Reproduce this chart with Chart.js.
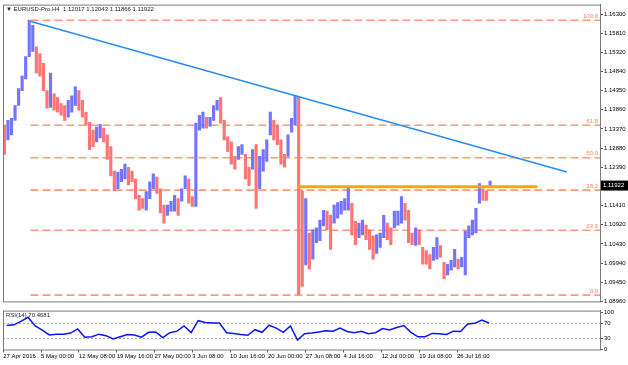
<!DOCTYPE html>
<html>
<head>
<meta charset="utf-8">
<script src="https://cdn.jsdelivr.net/npm/chart.js@4.4.0/dist/chart.umd.min.js"></script>
<style>
  html, body { margin: 0; padding: 0; background: #fff; }
  #wrap { position: relative; width: 628px; height: 365px; }
  #main { position: absolute; left: 0; top: 0; width: 628px; height: 306px; }
  #rsi { position: absolute; left: 0; top: 306px; width: 628px; height: 59px; }
</style>
</head>
<body>
<div id="wrap">
  <canvas id="main" width="628" height="306"></canvas>
  <canvas id="rsi" width="628" height="59"></canvas>
</div>
<script>
// EURUSD H4, each group below = 3 H4 bars (high / low)
const barsPerGroup = 3;
const highs = [
  1.1347, 1.1359, 1.1364, 1.1397, 1.1440, 1.1472, 1.1522, 1.1615, 1.1602, 1.1547,
  1.1530, 1.1505, 1.1435, 1.1480, 1.1427, 1.1417, 1.1402, 1.1397, 1.1410, 1.1422,
  1.1445, 1.1435, 1.1410, 1.1380, 1.1354, 1.1334, 1.1342, 1.1349, 1.1339, 1.1322,
  1.1292, 1.1229, 1.1227, 1.1234, 1.1247, 1.1239, 1.1229, 1.1209, 1.1167, 1.1159,
  1.1177, 1.1202, 1.1222, 1.1214, 1.1184, 1.1142, 1.1142, 1.1152, 1.1167, 1.1159,
  1.1184, 1.1217, 1.1209, 1.1164, 1.1352, 1.1372, 1.1380, 1.1367, 1.1367, 1.1397,
  1.1410, 1.1417, 1.1359, 1.1317, 1.1304, 1.1267, 1.1292, 1.1297, 1.1272, 1.1239,
  1.1284, 1.1297, 1.1267, 1.1284, 1.1309, 1.1380, 1.1359, 1.1347, 1.1309, 1.1272,
  1.1322, 1.1364, 1.1422, 1.1420, 1.1179, 1.1159, 1.1071, 1.1079, 1.1084, 1.1104,
  1.1129, 1.1127, 1.1116, 1.1142, 1.1149, 1.1152, 1.1159, 1.1187, 1.1147, 1.1101,
  1.1096, 1.1104, 1.1091, 1.1079, 1.1064, 1.1066, 1.1071, 1.1116, 1.1096, 1.1084,
  1.1127, 1.1127, 1.1164, 1.1147, 1.1129, 1.1071, 1.1084, 1.1079, 1.1034, 1.1026,
  1.1016, 1.1034, 1.1059, 1.1039, 1.0996, 1.0991, 1.1001, 1.1029, 1.1004, 1.1009,
  1.1076, 1.1089, 1.1104, 1.1134, 1.1197, 1.1184, 1.1179, 1.1204
];
const lows = [
  1.1272, 1.1309, 1.1322, 1.1359, 1.1397, 1.1435, 1.1465, 1.1522, 1.1535, 1.1480,
  1.1472, 1.1435, 1.1390, 1.1392, 1.1385, 1.1380, 1.1372, 1.1359, 1.1367, 1.1380,
  1.1397, 1.1385, 1.1367, 1.1347, 1.1284, 1.1292, 1.1304, 1.1314, 1.1304, 1.1259,
  1.1217, 1.1179, 1.1184, 1.1202, 1.1209, 1.1194, 1.1202, 1.1159, 1.1129, 1.1134,
  1.1129, 1.1159, 1.1184, 1.1172, 1.1122, 1.1096, 1.1116, 1.1127, 1.1127, 1.1116,
  1.1152, 1.1184, 1.1147, 1.1139, 1.1139, 1.1334, 1.1339, 1.1339, 1.1344, 1.1359,
  1.1385, 1.1352, 1.1309, 1.1279, 1.1247, 1.1234, 1.1259, 1.1272, 1.1209, 1.1192,
  1.1234, 1.1134, 1.1184, 1.1229, 1.1254, 1.1322, 1.1309, 1.1297, 1.1247, 1.1239,
  1.1267, 1.1329, 1.1347, 1.0914, 1.0934, 1.0989, 1.0979, 1.1004, 1.1046, 1.1051,
  1.1089, 1.1079, 1.1029, 1.1096, 1.1109, 1.1119, 1.1129, 1.1129, 1.1066, 1.1041,
  1.1059, 1.1066, 1.1054, 1.1029, 1.1004, 1.1019, 1.1034, 1.1059, 1.1054, 1.1041,
  1.1084, 1.1091, 1.1096, 1.1104, 1.1046, 1.1041, 1.1039, 1.1041, 1.0991, 1.0991,
  1.0979, 1.1001, 1.1004, 1.1009, 1.0954, 1.0964, 1.0976, 1.0984, 1.0979, 1.0984,
  1.0964, 1.1059, 1.1066, 1.1071, 1.1147, 1.1154, 1.1154, 1.1187
];
// RSI(14), one reading every 6 H4 bars
const rsiStep = 6;
const rsiValues = [
  64, 66, 75, 86, 63, 52, 39, 41, 41, 44,
  55, 33, 34, 41, 37, 28, 34, 40, 39, 33,
  46, 47, 32, 45, 49, 63, 45, 77, 72, 71,
  71, 45, 43, 40, 38, 53, 46, 65, 57, 46,
  63, 25, 42, 44, 47, 50, 49, 57, 48, 45,
  49, 42, 45, 56, 52, 59, 64, 46, 34, 34,
  43, 42, 40, 49, 48, 68, 70, 79, 71
];
// time labels, one every 32 H4 bars
const labelStep = 32;
const dateLabels = ["27 Apr 2016", "5 May 00:00", "12 May 08:00", "19 May 16:00", "27 May 00:00",
  "3 Jun 08:00", "10 Jun 16:00", "20 Jun 00:00", "27 Jun 08:00", "4 Jul 16:00",
  "12 Jul 00:00", "19 Jul 08:00", "26 Jul 16:00"];
const priceTicks = [1.0896, 1.0945, 1.0994, 1.1043, 1.1092, 1.1141, 1.1239, 1.1288,
  1.1337, 1.1386, 1.1435, 1.1484, 1.1532, 1.1581, 1.1630];
const rsiTicks = [0, 30, 70, 100];
const rsiLevels = [30, 70];

// drawing objects
const fibLevels = [0, 23.6, 38.2, 50, 61.8, 100];
const fibLow = 1.0912;
const fibHigh = 1.1615;
const fibStart = 23;
const trendLine = [{ x: 23.5, y: 1.1612 }, { x: 477, y: 1.1227 }];
const resistance = [{ x: 249, y: 1.1189 }, { x: 452, y: 1.1189 }];
const ohlcText = "\u25BC EURUSD-Pro,H4  1.12017 1.12043 1.11866 1.11922";
const lastPrice = 1.11922;
const rsiText = "RSI(14) 70.4681";

const xMin = -0.2, xMax = 505;
const FONT = '"Liberation Sans", "DejaVu Sans", sans-serif';
Chart.defaults.font.family = FONT;
Chart.defaults.font.size = 6;
Chart.defaults.color = '#000';

const mids = highs.map((h, i) => (h + lows[i]) / 2);
const barColors = mids.map((m, i) => (i > 0 && m >= mids[i - 1]) ? '#7474ff' : '#ff7474');

const panelFrame = {
  id: 'panelFrame',
  afterDraw(chart) {
    const { ctx, chartArea: a } = chart;
    ctx.save();
    ctx.strokeStyle = '#7a7a7a';
    ctx.lineWidth = 1;
    ctx.strokeRect(a.left + 0.5, a.top + 0.5, a.right - a.left, a.bottom - a.top);
    ctx.restore();
  }
};

const priceOverlay = {
  id: 'priceOverlay',
  afterDraw(chart) {
    const { ctx, chartArea: a, scales: { y } } = chart;
    ctx.save();
    ctx.font = '6px ' + FONT;
    ctx.fillStyle = '#222';
    ctx.textBaseline = 'middle';
    ctx.fillText(ohlcText, a.left + 3, a.top + 5);

    ctx.fillStyle = '#ff7f5a';
    ctx.textAlign = 'right';
    ctx.textBaseline = 'bottom';
    fibLevels.forEach(l => {
      const py = y.getPixelForValue(fibLow + (fibHigh - fibLow) * l / 100);
      ctx.fillText(l.toFixed(1), a.right - 2, py - 1);
    });

    const py = y.getPixelForValue(lastPrice);
    ctx.fillStyle = '#000';
    ctx.fillRect(a.right + 1, py - 5, 27, 10);
    ctx.fillStyle = '#fff';
    ctx.textAlign = 'left';
    ctx.textBaseline = 'middle';
    ctx.fillText(lastPrice.toFixed(5), a.right + 3, py);
    ctx.restore();
  }
};

const rsiOverlay = {
  id: 'rsiOverlay',
  beforeDatasetsDraw(chart) {
    const { ctx, chartArea: a, scales: { y } } = chart;
    ctx.save();
    ctx.strokeStyle = '#b0b0b0';
    ctx.lineWidth = 1;
    ctx.setLineDash([2, 2]);
    rsiLevels.forEach(v => {
      const py = Math.round(y.getPixelForValue(v)) + 0.5;
      ctx.beginPath();
      ctx.moveTo(a.left, py);
      ctx.lineTo(a.right, py);
      ctx.stroke();
    });
    ctx.restore();
  },
  afterDraw(chart) {
    const { ctx, chartArea: a } = chart;
    ctx.save();
    ctx.font = '6px ' + FONT;
    ctx.fillStyle = '#222';
    ctx.textBaseline = 'middle';
    ctx.fillText(rsiText, a.left + 3, a.top + 5);
    ctx.restore();
  }
};

const fibSets = fibLevels.map(l => {
  const p = fibLow + (fibHigh - fibLow) * l / 100;
  return {
    type: 'line',
    data: [{ x: fibStart, y: p }, { x: xMax, y: p }],
    borderColor: '#ff9a78',
    borderWidth: 1.6,
    borderDash: [8, 4],
    pointRadius: 0,
    order: 5
  };
});

new Chart(document.getElementById('main'), {
  type: 'bar',
  data: {
    datasets: [
      {
        type: 'bar',
        data: highs.map((h, i) => ({ x: i * barsPerGroup + 1, y: [lows[i], h] })),
        backgroundColor: barColors,
        barThickness: 2.5,
        borderWidth: 0,
        order: 3
      },
      ...fibSets,
      {
        type: 'line',
        data: trendLine,
        borderColor: '#2a8cf0',
        borderWidth: 1.5,
        pointRadius: 0,
        order: 1
      },
      {
        type: 'line',
        data: resistance,
        borderColor: '#ffa500',
        borderWidth: 3,
        pointRadius: 0,
        order: 0
      }
    ]
  },
  options: {
    responsive: false,
    animation: false,
    layout: { padding: { left: 3, top: 2, right: 0, bottom: 1 } },
    plugins: { legend: { display: false }, tooltip: { enabled: false } },
    scales: {
      x: { type: 'linear', min: xMin, max: xMax, offset: false, display: false },
      y: {
        position: 'right',
        min: 1.0896,
        max: 1.1655,
        afterFit(s) { s.width = 28; },
        afterBuildTicks(s) { s.ticks = priceTicks.map(v => ({ value: v })); },
        ticks: { callback: v => v.toFixed(5), padding: 1, autoSkip: false, font: { size: 6 } },
        grid: { drawOnChartArea: false, tickLength: 3, color: '#555' },
        border: { color: '#555' }
      }
    }
  },
  plugins: [panelFrame, priceOverlay]
});

new Chart(document.getElementById('rsi'), {
  type: 'line',
  data: {
    datasets: [{
      data: rsiValues.map((v, i) => ({ x: i * rsiStep + 3, y: v })),
      borderColor: '#0a14ff',
      borderWidth: 1.5,
      pointRadius: 0,
      tension: 0
    }]
  },
  options: {
    responsive: false,
    animation: false,
    layout: { padding: { left: 3, top: 2, right: 0, bottom: 0 } },
    plugins: { legend: { display: false }, tooltip: { enabled: false } },
    scales: {
      x: {
        type: 'linear',
        min: xMin,
        max: xMax,
        afterFit(s) { s.height = 15.5; },
        afterBuildTicks(s) { s.ticks = dateLabels.map((_, i) => ({ value: i * labelStep })); },
        ticks: { callback: (v, i) => dateLabels[i], align: 'start', padding: 0, maxRotation: 0, autoSkip: false, font: { size: 6 } },
        grid: { drawOnChartArea: false, tickLength: 3, color: '#555' },
        border: { display: false }
      },
      y: {
        position: 'right',
        min: 0,
        max: 104,
        afterFit(s) { s.width = 28; },
        afterBuildTicks(s) { s.ticks = rsiTicks.map(v => ({ value: v })); },
        ticks: { padding: 1, autoSkip: false, font: { size: 6 } },
        grid: { drawOnChartArea: false, tickLength: 3, color: '#555' },
        border: { color: '#555' }
      }
    }
  },
  plugins: [panelFrame, rsiOverlay]
});
</script>
</body>
</html>
